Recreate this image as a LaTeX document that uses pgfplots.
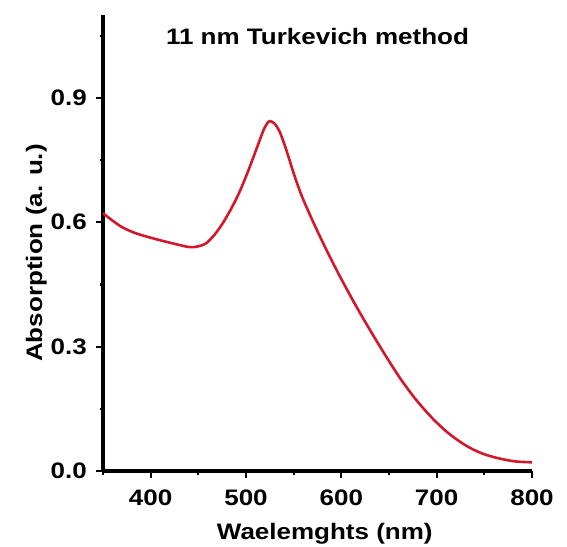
\documentclass[border=0pt]{standalone}
\usepackage{pgfplots}
\pgfplotsset{compat=1.18}
\usepackage{fontspec}
\setmainfont{Liberation Sans}[FakeStretch=1.16]
\definecolor{curvered}{RGB}{210,24,42}
\newcommand{\lblfont}{\bfseries\fontsize{22.5}{26}\selectfont}
\begin{document}
\begin{tikzpicture}
\useasboundingbox (0,0) rectangle (567bp,547bp);
\begin{axis}[
    at={(103bp,76bp)}, anchor=south west,
    scale only axis, width=429bp, height=456bp,
    xmin=350, xmax=800, ymin=0, ymax=1.1,
    axis x line*=bottom, axis y line*=left,
    axis line style={line width=3.2bp, black},
    xtick={400,500,600,700,800}, minor xtick={350,450,550,650,750},
    ytick={0,0.3,0.6,0.9}, minor ytick={0.15,0.45,0.75,1.05},
    tick align=outside, major tick length=7bp, minor tick length=3.5bp,
    every tick/.style={line width=2.2bp, black},
    /pgf/number format/assume math mode=true,
    ticklabel style={font=\lblfont, inner sep=0pt},
    yticklabel style={xshift=-9bp, /pgf/number format/.cd, fixed, fixed zerofill, precision=1},
    xticklabel style={yshift=-12bp, /pgf/number format/.cd, fixed, precision=0},
    clip=false,
    title={11 nm Turkevich method},
    title style={at={(axis description cs:0.5,0.922)}, anchor=base, font=\lblfont, inner sep=0pt},
    xlabel={Waelemghts (nm)},
    xlabel style={at={(axis description cs:0.517,-0.150)}, anchor=base, font=\lblfont, inner sep=0pt},
    ylabel={Absorption (a. u.)},
    ylabel style={at={(axis description cs:-0.142,0.478)}, anchor=base, font=\lblfont, inner sep=0pt},
]
\addplot[curvered, line width=2.6bp, smooth, tension=0.5] coordinates {
(350,0.622) (360,0.604) (371,0.587) (385,0.573) (406,0.559) (425,0.548)
(441,0.540) (450,0.542) (458,0.549) (467,0.570) (476,0.599) (485,0.635)
(493,0.672) (502,0.722) (511,0.777) (518,0.820) (522,0.838) (525,0.844)
(530,0.838) (535,0.820) (540,0.790) (545,0.755) (550,0.718) (555,0.685)
(560,0.655) (570,0.603) (580,0.554) (591,0.503) (600,0.463) (613,0.408)
(626,0.356) (643,0.291) (661,0.226) (678,0.173) (696,0.126) (713,0.090)
(731,0.061) (748,0.042) (766,0.030) (783,0.023) (800,0.021)
};
\end{axis}
\end{tikzpicture}
\end{document}
